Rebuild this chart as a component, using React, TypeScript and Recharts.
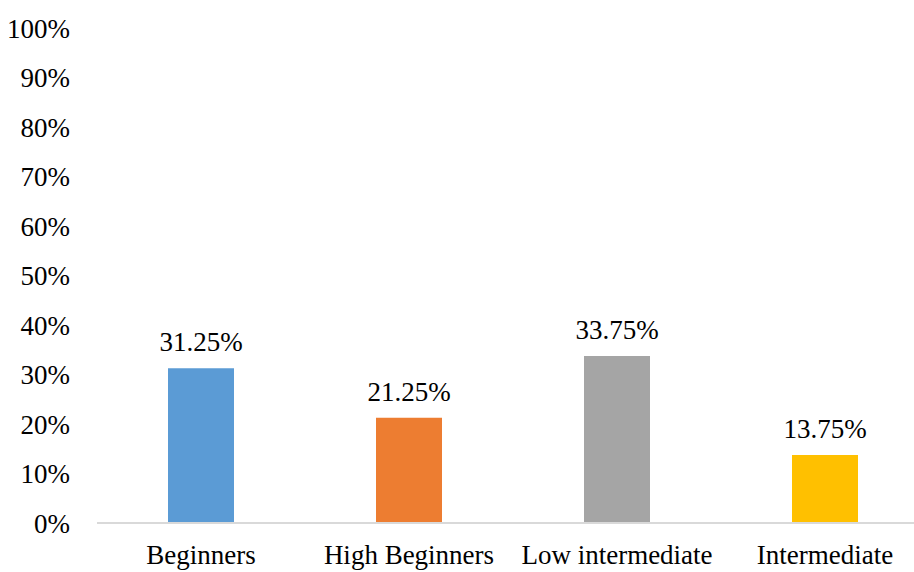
import React from "react";
import { BarChart, Bar, XAxis, YAxis, Cell, LabelList } from "recharts";

const categories = ["Beginners", "High Beginners", "Low intermediate", "Intermediate"];
const values = [31.25, 21.25, 33.75, 13.75];
const colors = ["#5B9BD5", "#ED7D31", "#A5A5A5", "#FFC000"];
const yTicks = [0, 10, 20, 30, 40, 50, 60, 70, 80, 90, 100];

const data = categories.map((name, i) => ({ name, value: values[i] }));

const FONT = "Liberation Serif";

export default function App() {
  return (
    <div
      style={{
        position: "absolute",
        left: 0,
        top: 0,
        width: 914,
        height: 572,
        overflow: "hidden",
        background: "#fff",
      }}
    >
      <BarChart
        width={940}
        height={572}
        data={data}
        margin={{ top: 28, right: 11, bottom: 0, left: 0 }}
      >
        <YAxis
          type="number"
          domain={[0, 100]}
          ticks={yTicks}
          interval={0}
          axisLine={false}
          tickLine={false}
          tickSize={0}
          tickMargin={27}
          width={97}
          tickFormatter={(v: number) => `${v}%`}
          tick={{ fill: "#000", fontSize: 27, style: { fontFamily: FONT } }}
        />
        <XAxis
          dataKey="name"
          interval={0}
          height={49}
          tickLine={false}
          tickSize={0}
          tickMargin={22}
          axisLine={{ stroke: "#D9D9D9", strokeWidth: 2 }}
          tick={{ fill: "#000", fontSize: 27, style: { fontFamily: FONT } }}
        />
        <Bar dataKey="value" barSize={66} isAnimationActive={false}>
          {data.map((d, i) => (
            <Cell key={d.name} fill={colors[i]} />
          ))}
          <LabelList
            dataKey="value"
            position="top"
            offset={17}
            formatter={(v: number) => `${v.toFixed(2)}%`}
            style={{ fill: "#000", fontSize: 27, fontFamily: FONT }}
          />
        </Bar>
      </BarChart>
    </div>
  );
}
